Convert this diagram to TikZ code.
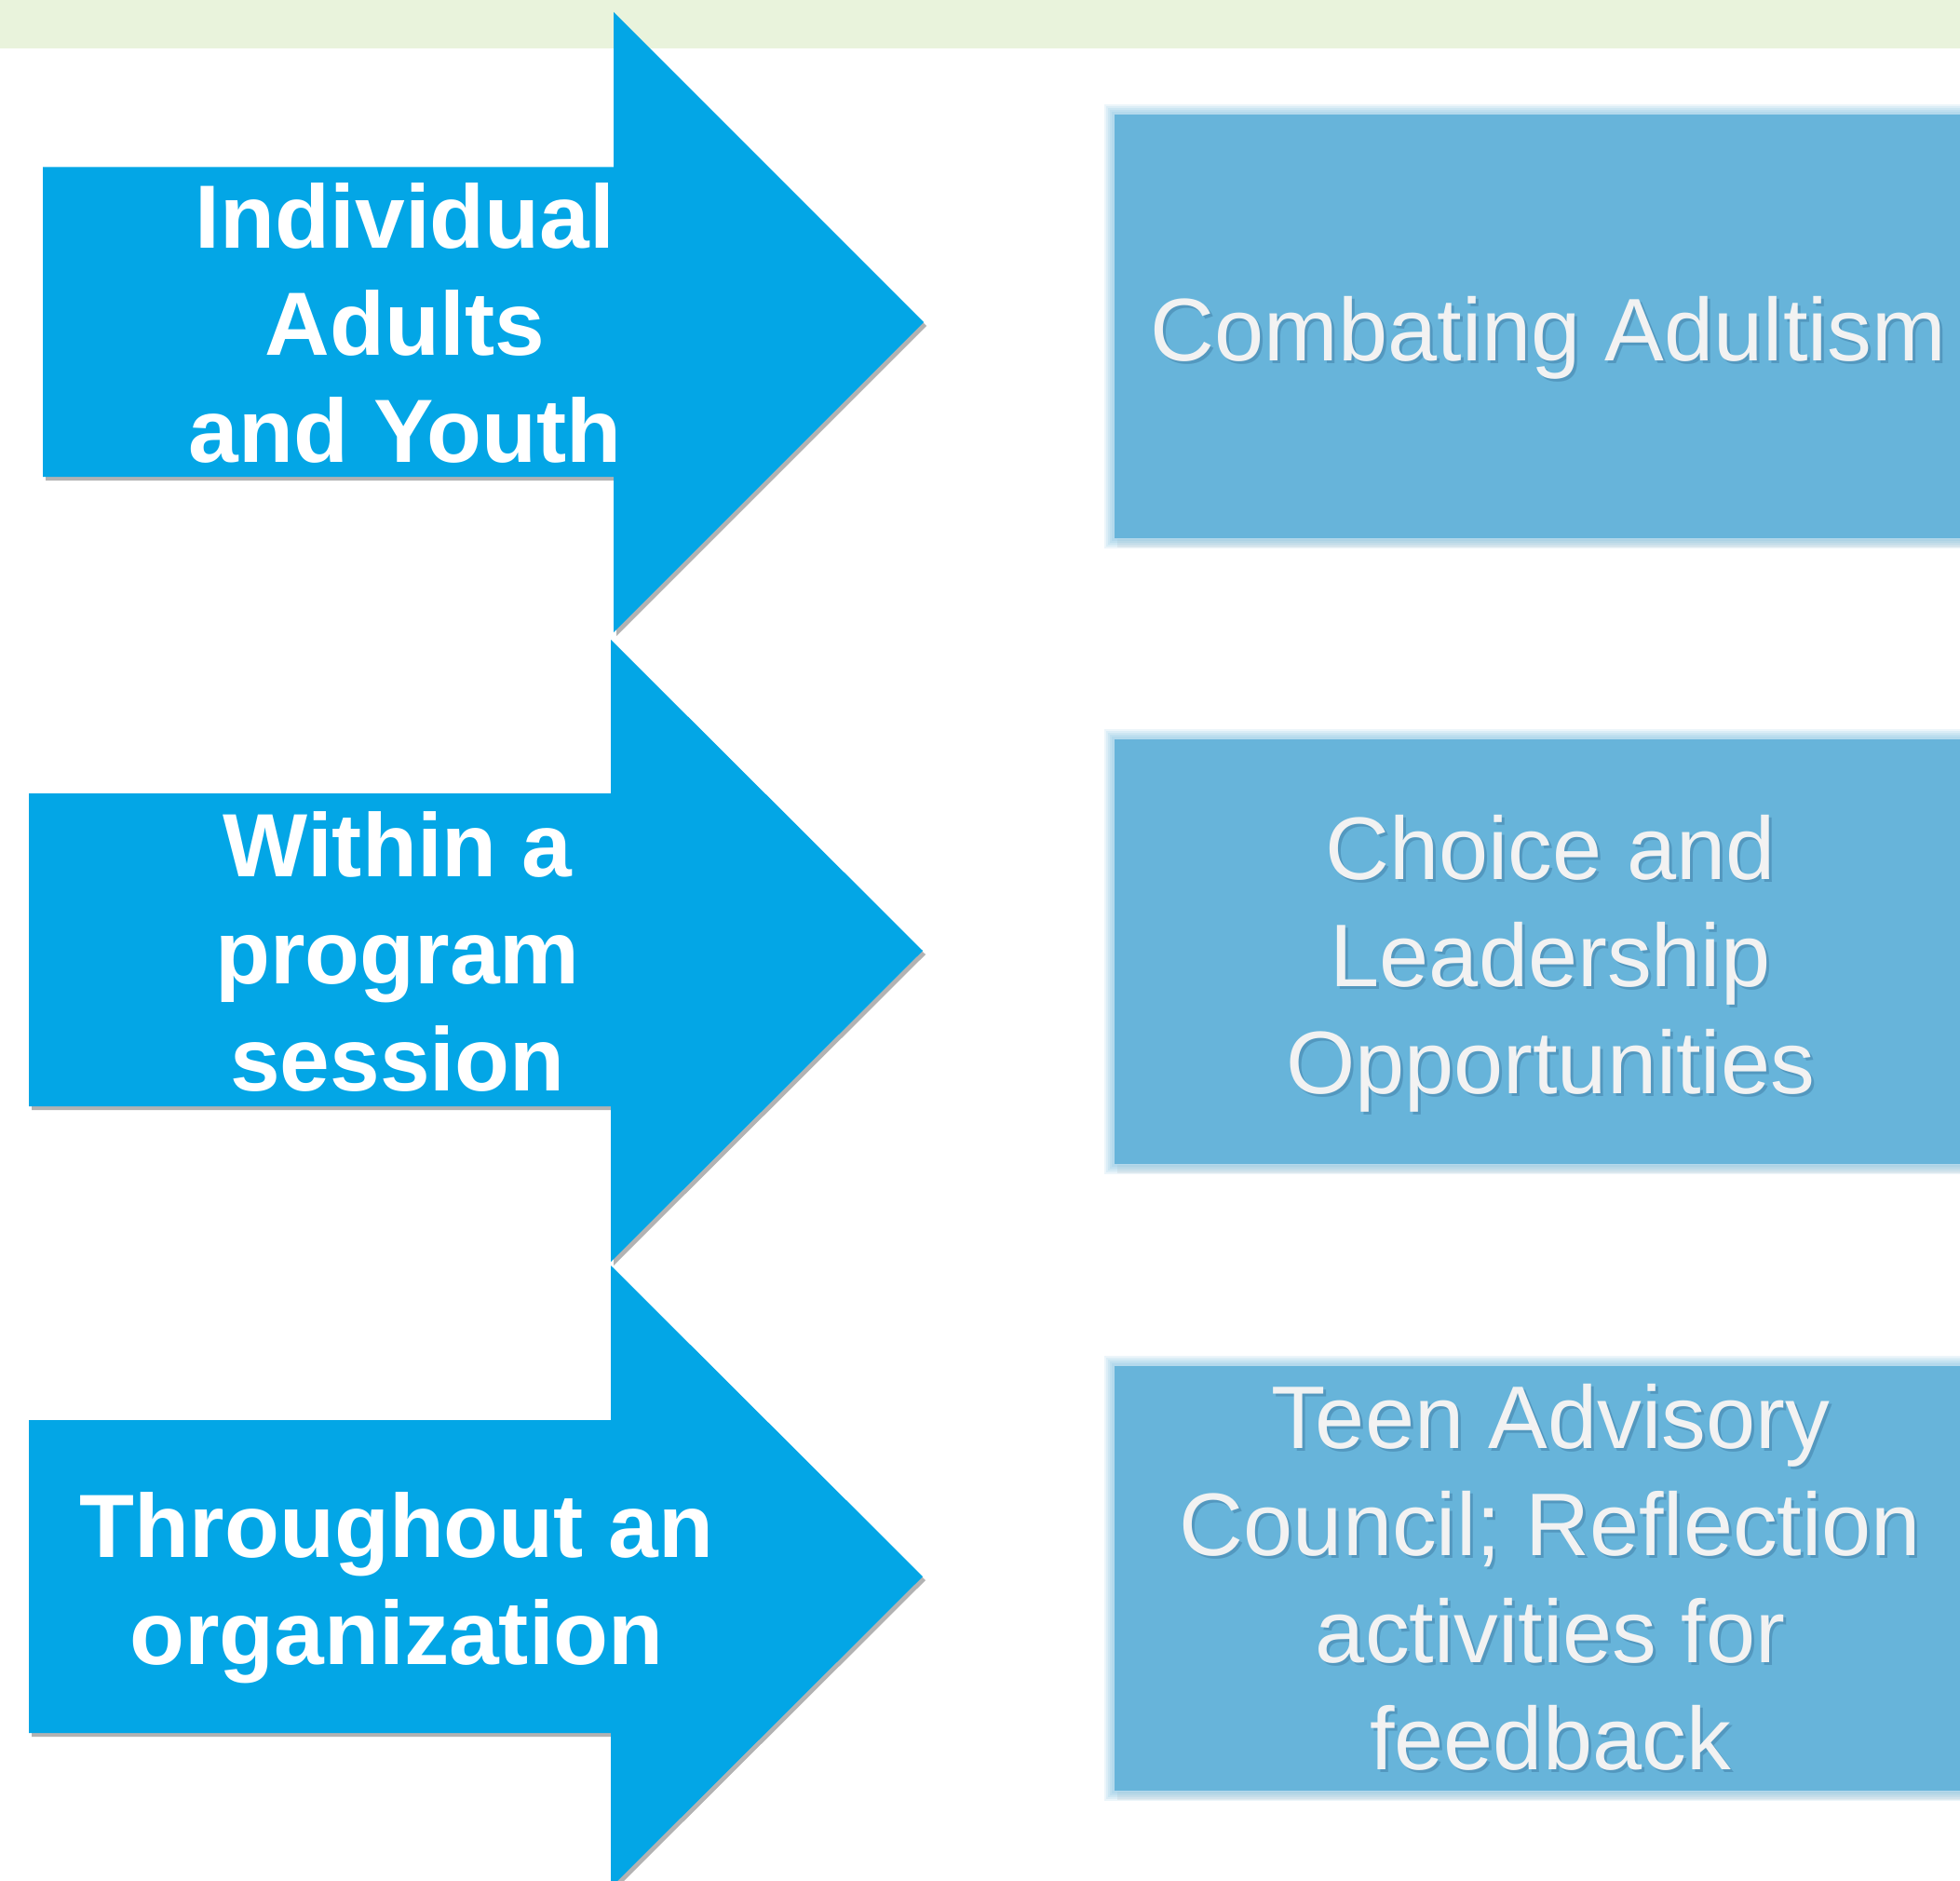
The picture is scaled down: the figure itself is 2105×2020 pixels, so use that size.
\documentclass[tikz,border=0pt]{standalone}
\usepackage{fontspec}
\setmainfont{Liberation Sans}
\usetikzlibrary{shadows}
\definecolor{arrowblue}{RGB}{3,166,230}
\definecolor{boxblue}{RGB}{103,180,218}
\definecolor{bandgreen}{RGB}{233,243,220}
\definecolor{boxtext}{RGB}{242,242,242}
\definecolor{txtshadow}{RGB}{60,120,160}
\begin{document}
\begin{tikzpicture}[x=1pt,y=-1pt,
  arrowshape/.style={fill=arrowblue, drop shadow={shadow xshift=3pt, shadow yshift=-4pt, opacity=0.3, fill=black}},
  lefttext/.style={text=white, font=\fontsize{96.5}{115}\selectfont\bfseries, align=center, inner sep=0pt},
  righttext/.style={text=boxtext, font=\fontsize{95.5}{115}\selectfont, align=center, inner sep=0pt},
  shadowtext/.style={righttext, text=txtshadow, opacity=0.45},
  glow/.style={draw=boxblue, line width=#1},
]
\useasboundingbox (0,0) rectangle (2105,2020);
\clip (0,0) rectangle (2105,2020);
\fill[white] (0,0) rectangle (2105,2020);
\fill[bandgreen] (0,0) rectangle (2105,52);

% right boxes with soft edges
\foreach \ya/\yb in {122/579, 793/1251, 1466/1924}{
  \fill[black, opacity=0.05] (1200,\yb) rectangle (2200,\yb+9);
  \foreach \w in {20,16,12,8,4}{
    \draw[glow=\w, opacity=0.12] (1196,\ya) rectangle (2200,\yb);
  }
  \fill[boxblue] (1197,\ya+1) rectangle (2200,\yb-1);
}

% arrows
\path[arrowshape] (46,179.5) -- (659,179.5) -- (659,13) -- (992,346) -- (659,679) -- (659,512) -- (46,512) -- cycle;
\path[arrowshape] (31,852) -- (656,852) -- (656,687) -- (991,1021) -- (656,1355) -- (656,1188) -- (31,1188) -- cycle;
\path[arrowshape] (31,1525) -- (656,1525) -- (656,1359) -- (991,1693) -- (656,2027) -- (656,1861) -- (31,1861) -- cycle;

% arrow labels
\node[lefttext] (t1) at (435,347) {Individual\\Adults\\and Youth};
\node[lefttext] (t2) at (427,1022) {Within a\\program\\session};
\node[lefttext] (t3) at (426,1705) {Throughout an\\organization};

% box labels
\node[shadowtext] (s1) at (1666,366) {Combating Adultism};
\node[righttext] (b1) at (1663,363) {Combating Adultism};
\node[shadowtext] (s2) at (1668,1038) {Choice and\\Leadership\\Opportunities};
\node[righttext] (b2) at (1665,1035) {Choice and\\Leadership\\Opportunities};
\node[shadowtext] (s3) at (1668,1697) {Teen Advisory\\Council; Reflection\\activities for\\feedback};
\node[righttext] (b3) at (1665,1694) {Teen Advisory\\Council; Reflection\\activities for\\feedback};
\end{tikzpicture}
\end{document}
